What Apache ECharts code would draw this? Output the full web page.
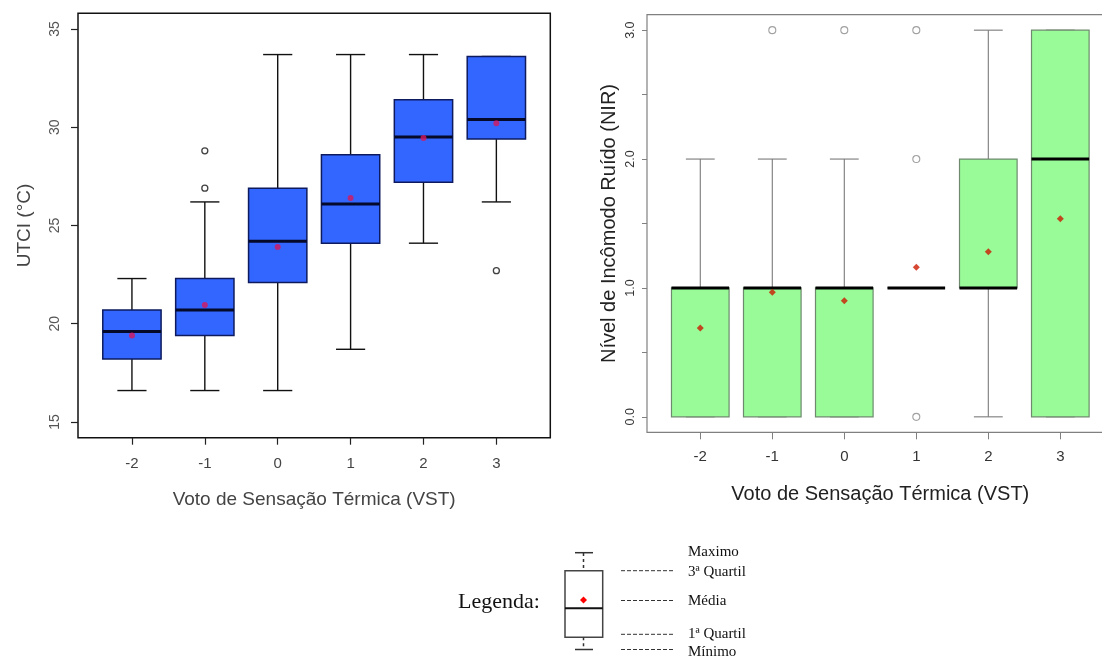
<!DOCTYPE html>
<html>
<head>
<meta charset="utf-8">
<script src="https://cdn.jsdelivr.net/npm/echarts@6/dist/echarts.min.js"></script>
<style>
html,body{margin:0;padding:0;background:#fff;}
#chart{width:1102px;height:657px;}
</style>
</head>
<body>
<div id="chart"></div>
<script>
// ---- data ----
const categories = [-2, -1, 0, 1, 2, 3];

// Left: UTCI (°C)
const utciMin    = [16.6, 16.6, 16.6, 18.7, 24.1, 26.2];
const utciQ1     = [18.2, 19.4, 22.1, 24.1, 27.2, 29.4];
const utciMedian = [19.6, 20.7, 24.2, 26.1, 29.5, 30.4];
const utciQ3     = [20.7, 22.3, 26.9, 28.6, 31.4, 33.6];
const utciMax    = [22.3, 26.2, 33.7, 33.7, 33.7, 33.6];
const utciMean   = [19.4, 20.95, 23.9, 26.4, 29.45, 30.2];
const utciOutlierVST   = [-1, -1, 3];
const utciOutlierValue = [28.8, 26.9, 22.7];
const utciTicks = [15, 20, 25, 30, 35];

// Right: Nível de Incômodo Ruído (NIR)
const nirMin    = [0, 0, 0, 1, 0, 0];
const nirQ1     = [0, 0, 0, 1, 1, 0];
const nirMedian = [1, 1, 1, 1, 1, 2];
const nirQ3     = [1, 1, 1, 1, 2, 3];
const nirMax    = [2, 2, 2, 1, 3, 3];
const nirMean   = [0.69, 0.967, 0.90, 1.16, 1.28, 1.536];
const nirOutlierVST   = [-1, 0, 1, 1, 1];
const nirOutlierValue = [3, 3, 0, 2, 3];
const nirTicks  = [0, 0.5, 1, 1.5, 2, 2.5, 3];
const nirLabels = [0, 1, 2, 3];

// ---- build series data ----
function boxRows(mn, q1, md, q3, mx) {
  return categories.map((c, i) => [c, mn[i], q1[i], md[i], q3[i], mx[i]]);
}
function pairs(xs, ys) { return xs.map((x, i) => [x, ys[i]]); }

function boxRenderer(st) {
  return function (params, api) {
    const x = api.value(0);
    const pMin = api.coord([x, api.value(1)]);
    const pQ1 = api.coord([x, api.value(2)]);
    const pMd = api.coord([x, api.value(3)]);
    const pQ3 = api.coord([x, api.value(4)]);
    const pMax = api.coord([x, api.value(5)]);
    const half = api.size([0.8, 0])[0] / 2;
    const cap = half / 2;
    const cx = pMd[0];
    const wl = { stroke: st.whisker, lineWidth: st.whiskerWidth };
    return {
      type: 'group',
      children: [
        { type: 'line', shape: { x1: cx, y1: pQ3[1], x2: cx, y2: pMax[1] }, style: wl },
        { type: 'line', shape: { x1: cx, y1: pQ1[1], x2: cx, y2: pMin[1] }, style: wl },
        { type: 'line', shape: { x1: cx - cap, y1: pMax[1], x2: cx + cap, y2: pMax[1] }, style: wl },
        { type: 'line', shape: { x1: cx - cap, y1: pMin[1], x2: cx + cap, y2: pMin[1] }, style: wl },
        { type: 'rect', shape: { x: cx - half, y: pQ3[1], width: half * 2, height: pQ1[1] - pQ3[1] },
          style: { fill: st.fill, stroke: st.border, lineWidth: st.borderWidth } },
        { type: 'line', shape: { x1: cx - half, y1: pMd[1], x2: cx + half, y2: pMd[1] },
          style: { stroke: st.median, lineWidth: st.medianWidth } }
      ]
    };
  };
}

const chart = echarts.init(document.getElementById('chart'), null, { renderer: 'canvas' });

const sans = 'Liberation Sans, Arial, sans-serif';
const serif = 'Liberation Serif, Times New Roman, serif';

const option = {
  backgroundColor: '#ffffff',
  animation: false,
  grid: [
    { left: 78, right: 551.7, top: 13.3, bottom: 219.3, outerBoundsMode: 'none', containLabel: false,
      show: true, borderColor: '#111', borderWidth: 1.5, backgroundColor: 'transparent' },
    { left: 647, right: -11.6, top: 14.7, bottom: 224.7, outerBoundsMode: 'none', containLabel: false,
      show: true, borderColor: '#808080', borderWidth: 1.2, backgroundColor: 'transparent' }
  ],
  xAxis: [
    {
      gridIndex: 0, type: 'value', min: -2.74, max: 3.74,
      name: 'Voto de Sensação Térmica (VST)', nameLocation: 'middle', nameGap: 53,
      nameTextStyle: { fontFamily: sans, fontSize: 19, color: '#444' },
      axisLine: { show: false, onZero: false }, splitLine: { show: false },
      axisTick: { show: true, length: 7, customValues: categories, lineStyle: { color: '#222', width: 1.2 } },
      axisLabel: { customValues: categories, margin: 19, fontFamily: sans, fontSize: 15, color: '#444' }
    },
    {
      gridIndex: 1, type: 'value', min: -2.74, max: 3.74,
      name: 'Voto de Sensação Térmica (VST)', nameLocation: 'middle', nameGap: 52,
      nameTextStyle: { fontFamily: sans, fontSize: 20, color: '#222' },
      axisLine: { show: false, onZero: false }, splitLine: { show: false },
      axisTick: { show: true, length: 7, customValues: categories, lineStyle: { color: '#808080', width: 1 } },
      axisLabel: { customValues: categories, margin: 17, fontFamily: sans, fontSize: 15, color: '#333' }
    }
  ],
  yAxis: [
    {
      gridIndex: 0, type: 'value', min: 14.2, max: 35.8,
      name: 'UTCI (°C)', nameLocation: 'middle', nameRotate: 90, nameGap: 44,
      nameTextStyle: { fontFamily: sans, fontSize: 19, color: '#444' },
      axisLine: { show: false, onZero: false }, splitLine: { show: false },
      axisTick: { show: true, length: 7, customValues: utciTicks, lineStyle: { color: '#222', width: 1.2 } },
      axisLabel: { customValues: utciTicks, rotate: 90, margin: 16, fontFamily: sans, fontSize: 14, color: '#555' }
    },
    {
      gridIndex: 1, type: 'value', min: -0.12, max: 3.12,
      name: 'Nível de Incômodo Ruído (NIR)', nameLocation: 'middle', nameRotate: 90, nameGap: 28,
      nameTextStyle: { fontFamily: sans, fontSize: 20, color: '#222' },
      axisLine: { show: false, onZero: false }, splitLine: { show: false },
      axisTick: { show: true, length: 5, customValues: nirTicks, lineStyle: { color: '#808080', width: 1 } },
      axisLabel: { customValues: nirLabels, rotate: 90, margin: 10, fontFamily: sans, fontSize: 12.5, color: '#333',
        formatter: v => Number(v).toFixed(1) }
    }
  ],
  series: [
    {
      type: 'custom', xAxisIndex: 0, yAxisIndex: 0,
      renderItem: boxRenderer({ fill: '#3366FF', border: '#0D1B5E', borderWidth: 1.5, whisker: '#111', whiskerWidth: 1.4, median: '#05092A', medianWidth: 3 }),
      encode: { x: 0, y: [1, 2, 3, 4, 5] },
      data: boxRows(utciMin, utciQ1, utciMedian, utciQ3, utciMax), z: 2
    },
    {
      type: 'scatter', xAxisIndex: 0, yAxisIndex: 0, symbol: 'circle', symbolSize: 6,
      itemStyle: { color: '#D6185C' }, data: pairs(categories, utciMean), z: 4
    },
    {
      type: 'scatter', xAxisIndex: 0, yAxisIndex: 0, symbol: 'circle', symbolSize: 6,
      itemStyle: { color: '#fff', borderColor: '#111', borderWidth: 1.3 }, data: pairs(utciOutlierVST, utciOutlierValue), z: 4
    },
    {
      type: 'custom', xAxisIndex: 1, yAxisIndex: 1,
      renderItem: boxRenderer({ fill: '#98FB98', border: '#6E8A6E', borderWidth: 1.2, whisker: '#7a7a7a', whiskerWidth: 1.1, median: '#000', medianWidth: 3 }),
      encode: { x: 0, y: [1, 2, 3, 4, 5] },
      data: boxRows(nirMin, nirQ1, nirMedian, nirQ3, nirMax), z: 2
    },
    {
      type: 'scatter', xAxisIndex: 1, yAxisIndex: 1, symbol: 'diamond', symbolSize: 7,
      itemStyle: { color: '#CC1A00' }, data: pairs(categories, nirMean), z: 4
    },
    {
      type: 'scatter', xAxisIndex: 1, yAxisIndex: 1, symbol: 'circle', symbolSize: 7,
      itemStyle: { color: '#fff', borderColor: '#8a8a8a', borderWidth: 1.1 }, data: pairs(nirOutlierVST, nirOutlierValue), z: 4
    }
  ],
  graphic: [
    { type: 'text', left: 458, top: 591, style: { text: 'Legenda:', font: '22px ' + serif, fill: '#111' } },
    // legend box glyph
    { type: 'line', shape: { x1: 575, y1: 552.7, x2: 593, y2: 552.7 }, style: { stroke: '#333', lineWidth: 1.5 } },
    { type: 'line', shape: { x1: 583.5, y1: 553, x2: 583.5, y2: 570.7 }, style: { stroke: '#333', lineWidth: 1.5, lineDash: [3, 3] } },
    { type: 'rect', shape: { x: 565, y: 570.7, width: 37.7, height: 66.6 }, style: { fill: '#fff', stroke: '#444', lineWidth: 1.5 } },
    { type: 'line', shape: { x1: 565, y1: 608.3, x2: 602.7, y2: 608.3 }, style: { stroke: '#111', lineWidth: 2 } },
    { type: 'polygon', shape: { points: [[583.5, 596.5], [587, 600], [583.5, 603.5], [580, 600]] }, style: { fill: '#FF0000' } },
    { type: 'line', shape: { x1: 583.5, y1: 637.3, x2: 583.5, y2: 649 }, style: { stroke: '#333', lineWidth: 1.5, lineDash: [3, 3] } },
    { type: 'line', shape: { x1: 575, y1: 649.5, x2: 593, y2: 649.5 }, style: { stroke: '#333', lineWidth: 1.5 } },
    // dashed leader lines
    { type: 'line', shape: { x1: 621, y1: 570.7, x2: 673, y2: 570.7 }, style: { stroke: '#333', lineWidth: 1, lineDash: [4, 2] } },
    { type: 'line', shape: { x1: 621, y1: 600.5, x2: 673, y2: 600.5 }, style: { stroke: '#333', lineWidth: 1, lineDash: [4, 2] } },
    { type: 'line', shape: { x1: 621, y1: 634.3, x2: 673, y2: 634.3 }, style: { stroke: '#333', lineWidth: 1, lineDash: [4, 2] } },
    { type: 'line', shape: { x1: 621, y1: 649.5, x2: 673, y2: 649.5 }, style: { stroke: '#333', lineWidth: 1, lineDash: [4, 2] } },
    // labels
    { type: 'text', left: 688, top: 545, style: { text: 'Maximo', font: '15px ' + serif, fill: '#111' } },
    { type: 'text', left: 688, top: 565, style: { text: '3ª Quartil', font: '15px ' + serif, fill: '#111' } },
    { type: 'text', left: 688, top: 594, style: { text: 'Média', font: '15px ' + serif, fill: '#111' } },
    { type: 'text', left: 688, top: 627, style: { text: '1ª Quartil', font: '15px ' + serif, fill: '#111' } },
    { type: 'text', left: 688, top: 645, style: { text: 'Mínimo', font: '15px ' + serif, fill: '#111' } }
  ]
};
chart.setOption(option);
</script>
</body>
</html>
